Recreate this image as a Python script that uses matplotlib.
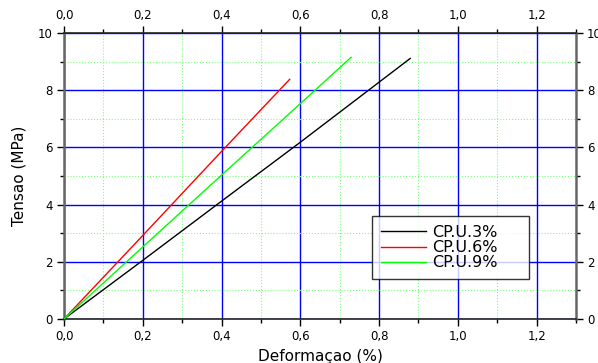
import matplotlib
matplotlib.use("Agg")
import matplotlib.pyplot as plt
from matplotlib.ticker import MultipleLocator, FuncFormatter

plt.rcParams['font.family'] = ['DejaVu Sans']

series_names = ["CP.U.3%", "CP.U.6%", "CP.U.9%"]
series_colors = ["#000000", "#ff0000", "#00ff00"]
x3 = [0.0, 0.2, 0.4, 0.6, 0.879]
y3 = [0.0, 2.05, 4.12, 6.18, 9.11]
x6 = [0.0, 0.2, 0.4, 0.573]
y6 = [0.0, 2.92, 5.86, 8.38]
x9 = [0.0, 0.2, 0.4, 0.6, 0.729]
y9 = [0.0, 2.52, 5.03, 7.53, 9.15]
xs = [x3, x6, x9]
ys = [y3, y6, y9]

fig = plt.figure(figsize=(5.98, 3.63), dpi=100)
ax = fig.add_axes([64/598, 1-319/363, (576-64)/598, (319-33)/363])

for xv, yv, c, n in zip(xs, ys, series_colors, series_names):
    ax.plot(xv, yv, color=c, lw=1.0, label=n, zorder=3)

ax.set_xlim(0, 1.3)
ax.set_ylim(0, 10)
ax.xaxis.set_major_locator(MultipleLocator(0.2))
ax.xaxis.set_minor_locator(MultipleLocator(0.1))
ax.yaxis.set_major_locator(MultipleLocator(2))
ax.yaxis.set_minor_locator(MultipleLocator(1))
fmt = FuncFormatter(lambda v, p: f"{v:.1f}".replace(".", ","))
ax.xaxis.set_major_formatter(fmt)

ax.grid(which='major', color='#0000ff', lw=1.0, ls='-', zorder=1)
ax.grid(which='minor', color='#77ff77', lw=0.8, ls=':', zorder=1)
ax.set_axisbelow(True)

ax.tick_params(which='both', direction='out', top=True, right=True,
               labeltop=True, labelright=True, labelsize=8.5, length=5, width=1,
               pad=3)
ax.tick_params(which='minor', length=3)

for s in ['top', 'bottom']:
    ax.spines[s].set_color('#222222')
    ax.spines[s].set_linewidth(1.2)
for s in ['left', 'right']:
    ax.spines[s].set_color('#666666')
    ax.spines[s].set_linewidth(1.8)

ax.set_xlabel("Deformaçao (%)", fontsize=11, labelpad=4)
ax.set_ylabel("Tensao (MPa)", fontsize=11, labelpad=8)

leg = ax.legend(loc='upper left', bbox_to_anchor=((372-64)/512, (319-216)/286, (529-372)/512, 0.0),
                mode='expand', fontsize=11.5, frameon=True, fancybox=False,
                edgecolor='black', borderpad=0.55, labelspacing=0.02, handlelength=2.8,
                handletextpad=0.4, borderaxespad=0)
leg.get_frame().set_linewidth(1.0)

fig.savefig("out.png", dpi=100)
